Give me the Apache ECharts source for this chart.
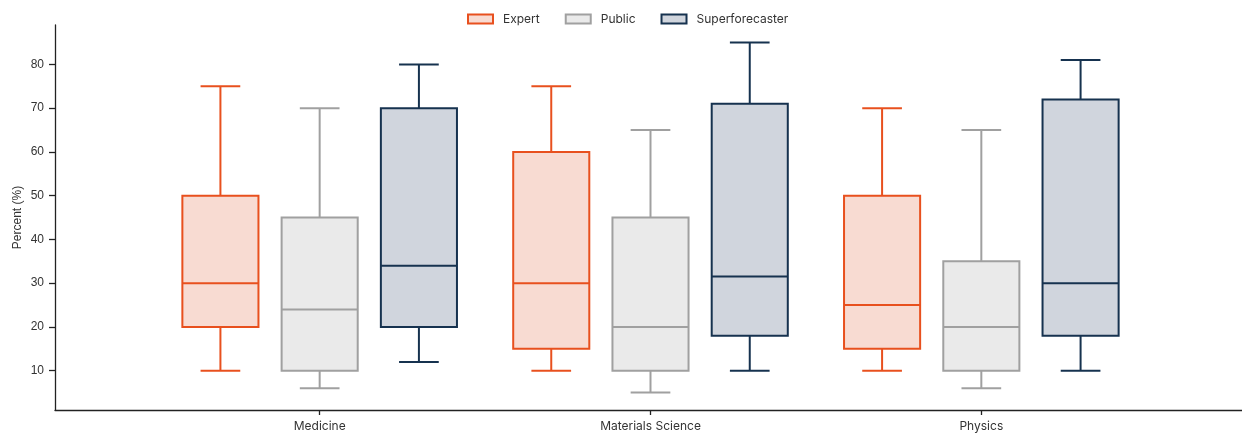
<!DOCTYPE html>
<html><head><meta charset="utf-8">
<script src="https://cdn.jsdelivr.net/npm/echarts@6/dist/echarts.min.js"></script>
<style>html,body{margin:0;padding:0;background:#fff}#c{width:1242px;height:433px}</style>
</head><body><div id="c"></div>
<script>
const categories = ['Medicine', 'Materials Science', 'Physics'];
const groups = ['Expert', 'Public', 'Superforecaster'];
// [low whisker, Q1, median, Q3, high whisker] per category
const expertStats = [[10, 20, 30, 50, 75], [10, 15, 30, 60, 75], [10, 15, 25, 50, 70]];
const publicStats = [[6, 10, 24, 45, 70], [5, 10, 20, 45, 65], [6, 10, 20, 35, 65]];
const superStats = [[12, 20, 34, 70, 80], [10, 18, 31.5, 71, 85], [10, 18, 30, 72, 81]];
const yTicks = [10, 20, 30, 40, 50, 60, 70, 80];
const catTicks = [0, 1, 2];

const strokes = ['#E8501E', '#A0A0A0', '#16324F'];
const fills = ['#F8DBD2', '#EAEAEA', '#D0D5DD'];
const offsets = [-0.3, 0, 0.3];
const boxW = 0.23, capW = 0.12;

function mkRender(gi) {
  return function (params, api) {
    const xc = api.value(0) + offsets[gi];
    const lo = api.value(1), q1 = api.value(2), md = api.value(3), q3 = api.value(4), hi = api.value(5);
    const bw = api.size([boxW, 0])[0];
    const cw = api.size([capW, 0])[0];
    const pLo = api.coord([xc, lo]), pQ1 = api.coord([xc, q1]), pMd = api.coord([xc, md]),
          pQ3 = api.coord([xc, q3]), pHi = api.coord([xc, hi]);
    const cx = pLo[0];
    const ls = {stroke: strokes[gi], lineWidth: 2, fill: null};
    return {
      type: 'group',
      children: [
        {type: 'line', shape: {x1: cx, y1: pLo[1], x2: cx, y2: pQ1[1]}, style: ls},
        {type: 'line', shape: {x1: cx, y1: pQ3[1], x2: cx, y2: pHi[1]}, style: ls},
        {type: 'line', shape: {x1: cx - cw / 2, y1: pLo[1], x2: cx + cw / 2, y2: pLo[1]}, style: ls},
        {type: 'line', shape: {x1: cx - cw / 2, y1: pHi[1], x2: cx + cw / 2, y2: pHi[1]}, style: ls},
        {type: 'rect', shape: {x: cx - bw / 2, y: pQ3[1], width: bw, height: pQ1[1] - pQ3[1]},
          style: {fill: fills[gi], stroke: strokes[gi], lineWidth: 2}},
        {type: 'line', shape: {x1: cx - bw / 2, y1: pMd[1], x2: cx + bw / 2, y2: pMd[1]}, style: ls}
      ]
    };
  };
}

const allStats = [expertStats, publicStats, superStats];
const series = groups.map((g, gi) => ({
  name: g,
  type: 'custom',
  renderItem: mkRender(gi),
  itemStyle: {color: fills[gi], borderColor: strokes[gi], borderWidth: 2},
  encode: {x: 0, y: [1, 2, 3, 4, 5]},
  data: allStats[gi].map((s, ci) => [ci].concat(s))
}));

const chart = echarts.init(document.getElementById('c'), null, {renderer: 'canvas'});
chart.setOption({
  animation: false,
  backgroundColor: '#ffffff',
  textStyle: {fontFamily: 'Inter, "Liberation Sans", sans-serif'},
  legend: {
    top: 8, left: 462,
    itemWidth: 25, itemHeight: 9, itemGap: 25,
    icon: 'rect',
    textStyle: {fontSize: 12, color: '#333', fontFamily: 'Inter, sans-serif', padding: [0, 0, 0, 5]},
    data: groups.map((g, gi) => ({name: g, itemStyle: {color: fills[gi], borderColor: strokes[gi], borderWidth: 2}}))
  },
  grid: {left: 55, right: -4, top: 25, bottom: 23, containLabel: false, outerBoundsMode: 'none'},
  xAxis: {
    type: 'value', min: -0.8, max: 2.8,
    splitLine: {show: false},
    axisLine: {show: true, onZero: false, lineStyle: {color: '#222', width: 1.3}},
    axisTick: {show: true, customValues: catTicks, length: 5, lineStyle: {color: '#222', width: 1.3}},
    axisLabel: {show: true, customValues: catTicks, formatter: v => categories[Math.round(v)] || '',
      fontSize: 12, color: '#333', margin: 10, fontFamily: 'Inter, sans-serif'}
  },
  yAxis: {
    type: 'value', min: 1, max: 89,
    name: 'Percent (%)', nameLocation: 'middle', nameGap: 31, nameRotate: 90, nameMoveOverlap: false,
    nameTextStyle: {fontSize: 12, color: '#333', fontFamily: '"Liberation Sans", Arial, sans-serif'},
    splitLine: {show: false},
    axisLine: {show: true, onZero: false, lineStyle: {color: '#222', width: 1.3}},
    axisTick: {show: true, customValues: yTicks, length: 6, lineStyle: {color: '#222', width: 1.3}},
    axisLabel: {show: true, customValues: yTicks, fontSize: 12, color: '#333', margin: 11,
      fontFamily: '"Liberation Sans", Arial, sans-serif'}
  },
  series: series
});
</script></body></html>
